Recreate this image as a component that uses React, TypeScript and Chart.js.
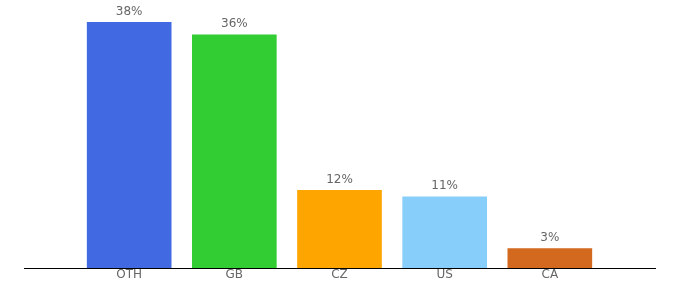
import React, { useEffect, useRef } from "react";
import { Chart, registerables } from "chart.js";

Chart.register(...registerables);

const categories = ["OTH", "GB", "CZ", "US", "CA"];
const values = [38, 36, 12, 11, 3];
const colors = ["#4169E1", "#32CD32", "#FFA500", "#87CEFA", "#D2691E"];

const labelPlugin = {
  id: "valueLabels",
  afterDatasetsDraw(chart: any) {
    const ctx = chart.ctx;
    const meta = chart.getDatasetMeta(0);
    ctx.save();
    ctx.font = "12px 'DejaVu Sans'";
    ctx.fillStyle = "#666666";
    ctx.textAlign = "center";
    ctx.textBaseline = "alphabetic";
    meta.data.forEach((bar: any, i: number) => {
      const v = chart.data.datasets[0].data[i];
      if (v == null) return;
      ctx.fillText(v + "%", bar.x, bar.y - 7.5);
    });
    ctx.restore();
  },
};

export default function App() {
  const ref = useRef<HTMLCanvasElement>(null);
  useEffect(() => {
    if (!ref.current) return;
    const labels = ["", ...categories, ""];
    const data = [null, ...values, null];
    const bg = ["transparent", ...colors, "transparent"];
    const chart = new Chart(ref.current, {
      type: "bar",
      data: {
        labels,
        datasets: [
          {
            data,
            backgroundColor: bg,
            barThickness: 84,
          },
        ],
      },
      options: {
        animation: false,
        responsive: true,
        maintainAspectRatio: false,
        layout: { padding: { left: 24, right: 25, top: 22, bottom: 17.6 } },
        plugins: { legend: { display: false }, tooltip: { enabled: false } },
        scales: {
          x: {
            offset: false,
            grid: { display: false, drawTicks: false },
            border: { display: true, color: "#000000", width: 1 },
            ticks: {
              autoSkip: false,
              maxRotation: 0,
              padding: 0,
              color: "#666666",
              font: { family: "'DejaVu Sans'", size: 12 },
            },
          },
          y: {
            display: false,
            min: 0,
            max: 38,
          },
        },
      },
      plugins: [labelPlugin],
    });
    return () => chart.destroy();
  }, []);
  return (
    <div style={{ position: "absolute", left: 0, top: 0, width: 680, height: 300 }}>
      <canvas ref={ref} />
    </div>
  );
}
